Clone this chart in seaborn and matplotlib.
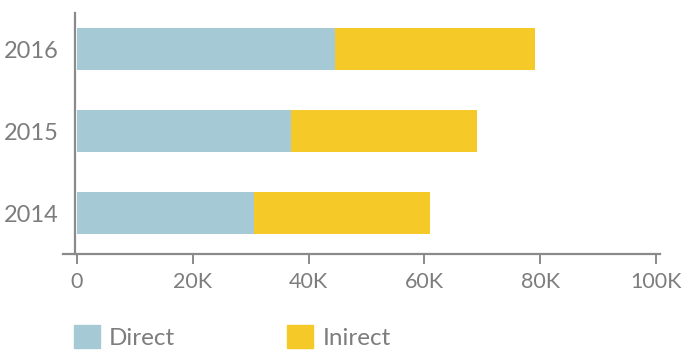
import matplotlib
matplotlib.use("Agg")
import matplotlib.pyplot as plt
import matplotlib.patches as mpatches
import seaborn as sns
import pandas as pd

# values
years = ["2016", "2015", "2014"]
direct = [44600, 36900, 30500]
indirect = [34500, 32200, 30400]
xticks = [0, 20000, 40000, 60000, 80000, 100000]
xtick_labels = ["0", "20K", "40K", "60K", "80K", "100K"]

blue = "#a5cad5"
yellow = "#f5c927"
grey = "#7d7d7d"

df = pd.DataFrame({"Year": years, "Direct": direct, "Indirect": indirect})
df["Total"] = df["Direct"] + df["Indirect"]

sns.set_style("white")
plt.rcParams["font.family"] = ["Lato", "DejaVu Sans"]

fig = plt.figure(figsize=(6.86, 3.5), dpi=100)
ax = fig.add_axes([63 / 686, 96 / 350, 597 / 686, 241 / 350])

# stacked: total first (yellow), direct on top (blue)
sns.barplot(data=df, x="Total", y="Year", color=yellow, orient="h",
            width=0.51, saturation=1, linewidth=0, ax=ax)
sns.barplot(data=df, x="Direct", y="Year", color=blue, orient="h",
            width=0.51, saturation=1, linewidth=0, ax=ax)

ax.set_xlim(-2400, 100700)
ax.set_ylim(2.5, -0.44)
ax.set_xticks(xticks)
ax.set_xticklabels(xtick_labels)
ax.set_xlabel("")
ax.set_ylabel("")

for s in ["top", "right"]:
    ax.spines[s].set_visible(False)
ax.spines["left"].set_position(("data", -400))
for s in ["left", "bottom"]:
    ax.spines[s].set_color("#8a8a8a")
    ax.spines[s].set_linewidth(1.6)

ax.tick_params(axis="x", which="major", bottom=True, length=7, width=1.4,
               color="#8a8a8a", pad=6, labelsize=15.5, labelcolor=grey)
ax.tick_params(axis="y", left=False, pad=8, labelsize=17, labelcolor=grey)

handles = [mpatches.Patch(color=blue, label="Direct"),
           mpatches.Patch(color=yellow, label="Inirect")]
fig.legend(handles=handles, loc="upper left", bbox_to_anchor=(74 / 686, 1 - 325 / 350),
           ncol=2, frameon=False, fontsize=17.5, labelcolor=grey,
           handlelength=1.05, handleheight=1.05, handletextpad=0.4,
           columnspacing=4.6, borderpad=0, borderaxespad=0)

fig.savefig("out.png", dpi=100)
